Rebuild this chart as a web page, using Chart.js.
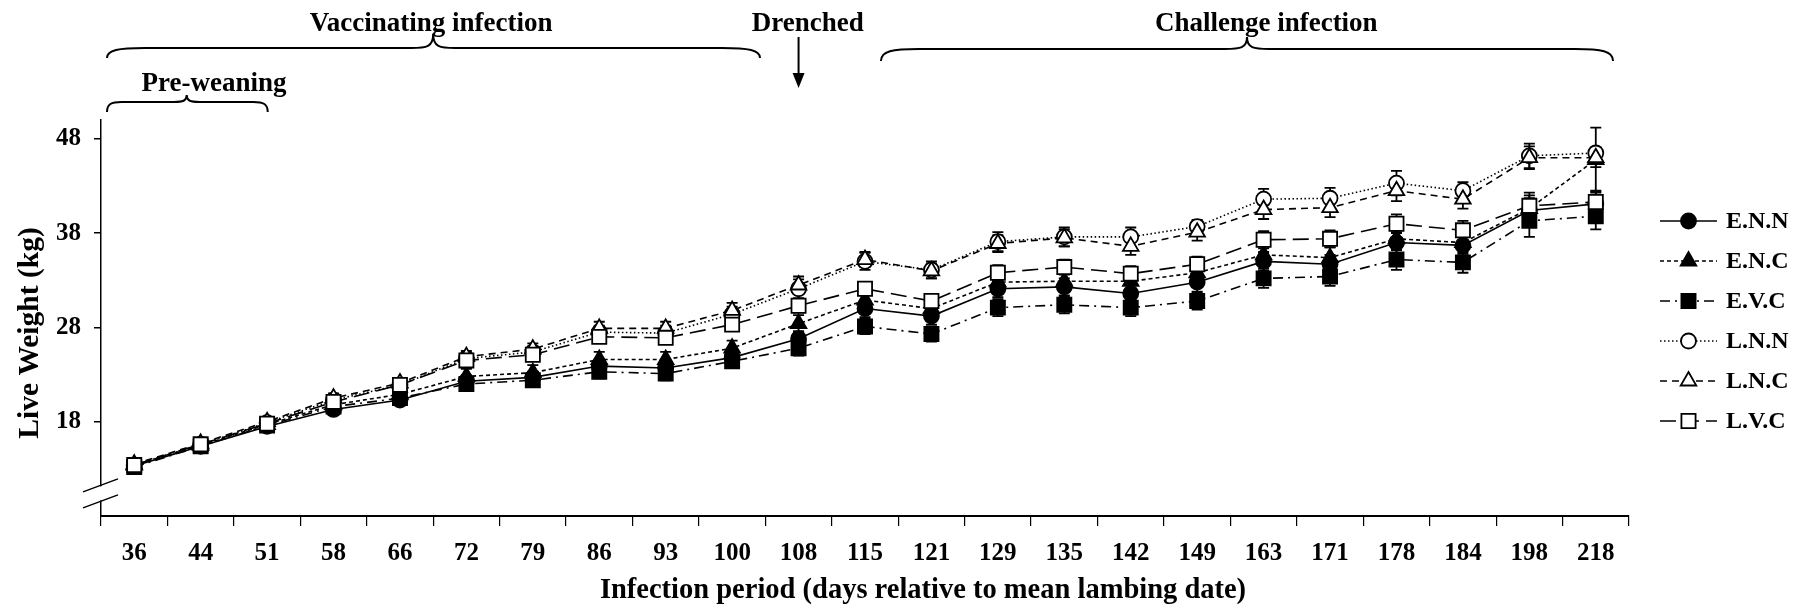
<!DOCTYPE html>
<html>
<head>
<meta charset="utf-8">
<title>Live weight by infection period</title>
<script src="https://cdn.jsdelivr.net/npm/chart.js"></script>
<style>
  html, body { margin: 0; padding: 0; background: #fff; }
  #wrap { width: 1806px; height: 616px; }
  canvas { display: block; }
</style>
</head>
<body>
<div id="wrap"><canvas id="chart" width="1806" height="616"></canvas></div>
<script>
// Days relative to mean lambing date
const days = ['36', '44', '51', '58', '66', '72', '79', '86', '93', '100', '108', '115',
              '121', '129', '135', '142', '149', '163', '171', '178', '184', '198', '218'];

// Live weight tick values (kg)
const yTicks = [18, 28, 38, 48];

// Group names
const groupNames = ['E.N.N', 'E.N.C', 'E.V.C', 'L.N.N', 'L.N.C', 'L.V.C'];

// Mean live weight (kg) per group
const wENN = [13.3, 15.4, 17.5, 19.3, 20.3, 22.3, 22.7, 23.9, 23.7, 24.8, 26.8, 30.0,
              29.2, 32.1, 32.3, 31.6, 32.8, 35.0, 34.7, 37.0, 36.7, 40.4, 41.1];
const wENC = [13.4, 15.5, 17.7, 19.8, 20.9, 22.8, 23.2, 24.6, 24.6, 25.8, 28.4, 30.9,
              30.0, 32.8, 32.9, 32.9, 33.8, 35.7, 35.4, 37.4, 37.0, 40.6, 45.8];
const wEVC = [13.2, 15.4, 17.6, 19.6, 20.5, 22.0, 22.4, 23.3, 23.1, 24.4, 25.8, 28.1,
              27.3, 30.1, 30.4, 30.1, 30.8, 33.2, 33.4, 35.2, 34.9, 39.3, 39.8];
const wLNN = [13.4, 15.6, 17.9, 20.3, 21.9, 24.7, 25.4, 27.5, 27.4, 29.4, 32.1, 35.0,
              34.1, 37.1, 37.6, 37.6, 38.7, 41.6, 41.7, 43.3, 42.5, 46.2, 46.5];
const wLNC = [13.5, 15.7, 18.0, 20.5, 22.1, 24.9, 25.7, 27.9, 27.9, 29.8, 32.5, 35.2,
              34.0, 36.9, 37.5, 36.6, 38.1, 40.5, 40.7, 42.5, 41.6, 46.0, 46.0];
const wLVC = [13.4, 15.6, 17.8, 20.1, 21.9, 24.5, 25.1, 27.0, 26.9, 28.3, 30.3, 32.1,
              30.8, 33.8, 34.4, 33.7, 34.7, 37.3, 37.4, 39.0, 38.3, 40.9, 41.3];

// Standard errors (kg) per group
const seENN = [0.3, 0.4, 0.4, 0.5, 0.5, 0.6, 0.6, 0.7, 0.7, 0.8, 0.8, 0.9,
               0.9, 0.9, 0.9, 1.0, 1.0, 1.0, 1.0, 1.1, 1.1, 1.3, 1.2];
const seENC = [0.3, 0.4, 0.4, 0.5, 0.6, 0.8, 0.8, 0.8, 0.8, 0.8, 0.9, 0.9,
               0.9, 1.0, 1.0, 1.0, 1.0, 1.1, 1.1, 1.2, 1.2, 1.4, 3.4];
const seEVC = [0.3, 0.3, 0.4, 0.5, 0.5, 0.6, 0.6, 0.7, 0.7, 0.7, 0.8, 0.8,
               0.8, 0.9, 0.9, 0.9, 0.9, 1.0, 1.0, 1.1, 1.1, 1.7, 1.4];
const seLNN = [0.3, 0.4, 0.4, 0.5, 0.5, 0.6, 0.6, 0.7, 0.8, 0.8, 1.0, 0.9,
               0.9, 1.0, 1.0, 1.0, 0.7, 1.1, 1.1, 1.3, 0.9, 1.3, 0.6];
const seLNC = [0.3, 0.4, 0.4, 0.5, 0.5, 0.6, 0.6, 0.7, 0.7, 0.8, 0.9, 0.8,
               0.8, 0.9, 0.9, 0.9, 0.9, 1.0, 1.0, 1.1, 1.0, 1.2, 1.0];
const seLVC = [0.3, 0.3, 0.4, 0.4, 0.5, 0.5, 0.6, 0.6, 0.6, 0.7, 0.7, 0.7,
               0.7, 0.8, 0.8, 0.8, 0.8, 0.9, 0.9, 1.0, 1.0, 1.4, 1.2];

// Axis titles
const xTitle = 'Infection period (days relative to mean lambing date)';
const yTitle = 'Live Weight (kg)';

const FONT = '"Liberation Serif", "Times New Roman", serif';

const weights = [wENN, wENC, wEVC, wLNN, wLNC, wLVC];
const errors  = [seENN, seENC, seEVC, seLNN, seLNC, seLVC];

// Line and marker look of each group
const looks = [
  { dash: [],            style: 'circle',   radius: 7.5, fill: '#000' },
  { dash: [4, 3],        style: 'triangle', radius: 9,   fill: '#000' },
  { dash: [10, 5, 2, 5], style: 'rect',     radius: 10,  fill: '#000' },
  { dash: [1.5, 2.5],    style: 'circle',   radius: 7.5, fill: '#fff' },
  { dash: [7, 5],        style: 'triangle', radius: 9,   fill: '#fff' },
  { dash: [16, 7],       style: 'rect',     radius: 10,  fill: '#fff' }
];

const datasets = groupNames.map((name, i) => ({
  label: name,
  data: weights[i],
  se: errors[i],
  borderColor: '#000',
  borderWidth: 1.6,
  borderDash: looks[i].dash,
  pointStyle: looks[i].style,
  pointRadius: looks[i].radius,
  pointHoverRadius: looks[i].radius,
  pointBorderWidth: 1.8,
  pointBorderColor: '#000',
  pointBackgroundColor: looks[i].fill,
  fill: false,
  tension: 0,
  order: groupNames.length - i
}));

function drawMarker(ctx, style, r, x, y, fill) {
  ctx.beginPath();
  if (style === 'circle') {
    ctx.arc(x, y, r, 0, Math.PI * 2);
  } else if (style === 'triangle') {
    for (let k = 0; k < 3; k++) {
      const a = -Math.PI / 2 + k * 2 * Math.PI / 3;
      const px = x + Math.cos(a) * r, py = y + Math.sin(a) * r;
      if (k === 0) ctx.moveTo(px, py); else ctx.lineTo(px, py);
    }
    ctx.closePath();
  } else {
    const h = r * Math.SQRT1_2;
    ctx.rect(x - h, y - h, 2 * h, 2 * h);
  }
  ctx.fillStyle = fill;
  ctx.fill();
  ctx.stroke();
}

// Standard error whiskers, drawn under the markers
const errorBars = {
  id: 'errorBars',
  beforeDatasetsDraw(chart) {
    const { ctx, scales: { x, y } } = chart;
    ctx.save();
    ctx.strokeStyle = '#000';
    ctx.lineWidth = 1.8;
    ctx.setLineDash([]);
    chart.data.datasets.forEach(ds => {
      ds.data.forEach((v, j) => {
        const e = ds.se[j];
        const cx = x.getPixelForValue(j);
        const yt = y.getPixelForValue(v + e);
        const yb = y.getPixelForValue(v - e);
        ctx.beginPath();
        ctx.moveTo(cx, yt); ctx.lineTo(cx, yb);
        ctx.moveTo(cx - 5.5, yt); ctx.lineTo(cx + 5.5, yt);
        ctx.moveTo(cx - 5.5, yb); ctx.lineTo(cx + 5.5, yb);
        ctx.stroke();
      });
    });
    ctx.restore();
  }
};

// Broken-axis marks near the bottom of the weight axis
const axisBreak = {
  id: 'axisBreak',
  afterDraw(chart) {
    const { ctx, chartArea, scales: { y } } = chart;
    const x0 = chartArea.left;
    const yc = y.getPixelForValue(10.4);
    ctx.save();
    ctx.fillStyle = '#fff';
    ctx.fillRect(x0 - 2, yc - 7, 4, 14);
    ctx.strokeStyle = '#000';
    ctx.lineWidth = 1.5;
    [-8, 8].forEach(d => {
      ctx.beginPath();
      ctx.moveTo(x0 - 18, yc + d + 6.5);
      ctx.lineTo(x0 + 17, yc + d - 6.5);
      ctx.stroke();
    });
    ctx.restore();
  }
};

// Axis titles: the day title sits right of centre, the weight title a little low
const axisTitles = {
  id: 'axisTitles',
  afterDraw(chart) {
    const { ctx, chartArea } = chart;
    ctx.save();
    ctx.fillStyle = '#000';
    ctx.font = 'bold 28.5px ' + FONT;
    ctx.textAlign = 'center';
    ctx.textBaseline = 'middle';
    ctx.fillText(xTitle, (chartArea.left + chartArea.right) / 2 + 58, chartArea.bottom + 75);
    ctx.font = 'bold 29.5px ' + FONT;
    ctx.textBaseline = 'alphabetic';
    ctx.translate(chartArea.left - 63.5, (chartArea.top + chartArea.bottom) / 2 + 15);
    ctx.rotate(-Math.PI / 2);
    ctx.fillText(yTitle, 0, 0);
    ctx.restore();
  }
};

function drawBrace(ctx, xL, xR, xT, yEnd, yBar, yPeak) {
  const w = xR - xL;
  const c = Math.min(38, w * 0.09);
  const t = Math.min(22, w * 0.08);
  ctx.beginPath();
  ctx.moveTo(xL, yEnd);
  ctx.bezierCurveTo(xL, yBar + 2, xL + c * 0.3, yBar, xL + c, yBar);
  ctx.lineTo(xT - t, yBar);
  ctx.bezierCurveTo(xT - t * 0.3, yBar, xT, yBar - 1, xT, yPeak);
  ctx.bezierCurveTo(xT, yBar - 1, xT + t * 0.3, yBar, xT + t, yBar);
  ctx.lineTo(xR - c, yBar);
  ctx.bezierCurveTo(xR - c * 0.3, yBar, xR, yBar + 2, xR, yEnd);
  ctx.stroke();
}

// Period braces, their titles and the drench arrow above the plot
const periodNotes = {
  id: 'periodNotes',
  afterDraw(chart) {
    const { ctx, chartArea, scales: { x } } = chart;
    const top = chartArea.top;
    const px = i => x.getPixelForValue(i);
    const spans = [
      { text: 'Vaccinating infection', from: -0.41, to: 9.42, tip: 4.5, textAt: 4.47, end: 62, bar: 72, peak: 86, base: 89 },
      { text: 'Challenge infection', from: 11.24, to: 22.26, tip: 16.75, textAt: 17.04, end: 59, bar: 71, peak: 83, base: 89 },
      { text: 'Pre-weaning', from: -0.41, to: 2.01, tip: 0.79, textAt: 1.2, end: 8, bar: 18, peak: 25, base: 29 }
    ];
    ctx.save();
    ctx.strokeStyle = '#000';
    ctx.fillStyle = '#000';
    ctx.lineWidth = 2;
    ctx.setLineDash([]);
    ctx.font = 'bold 27px ' + FONT;
    ctx.textAlign = 'center';
    ctx.textBaseline = 'alphabetic';
    spans.forEach(s => {
      drawBrace(ctx, px(s.from), px(s.to), px(s.tip), top - s.end, top - s.bar, top - s.peak);
      ctx.fillText(s.text, px(s.textAt), top - s.base);
    });
    // Drench at day 108
    const ax = px(10);
    ctx.fillText('Drenched', px(10.14), top - 89);
    ctx.beginPath();
    ctx.moveTo(ax, top - 83);
    ctx.lineTo(ax, top - 45);
    ctx.stroke();
    ctx.beginPath();
    ctx.moveTo(ax - 6, top - 47);
    ctx.lineTo(ax + 6, top - 47);
    ctx.lineTo(ax, top - 32);
    ctx.closePath();
    ctx.fill();
    ctx.restore();
  }
};

// Legend on the right: line sample with marker, then group name
const sideLegend = {
  id: 'sideLegend',
  afterDraw(chart) {
    const { ctx, chartArea } = chart;
    const x0 = chartArea.right + 31, x1 = x0 + 57, xm = (x0 + x1) / 2;
    ctx.save();
    ctx.font = 'bold 24px ' + FONT;
    ctx.textAlign = 'left';
    ctx.textBaseline = 'middle';
    chart.data.datasets.forEach((ds, i) => {
      const yy = chartArea.top + 101 + 40 * i;
      ctx.strokeStyle = '#000';
      ctx.lineWidth = 1.6;
      ctx.setLineDash(ds.borderDash);
      ctx.beginPath();
      ctx.moveTo(x0, yy);
      ctx.lineTo(x1, yy);
      ctx.stroke();
      ctx.setLineDash([]);
      ctx.lineWidth = 1.8;
      drawMarker(ctx, ds.pointStyle, ds.pointRadius, xm, yy, ds.pointBackgroundColor);
      ctx.fillStyle = '#000';
      ctx.fillText(ds.label, x1 + 9, yy + 1);
    });
    ctx.restore();
  }
};

new Chart(document.getElementById('chart'), {
  type: 'line',
  data: { labels: days, datasets: datasets },
  options: {
    responsive: false,
    devicePixelRatio: 1,
    animation: false,
    events: [],
    layout: { padding: { top: 120, right: 177, left: 0, bottom: 0 } },
    plugins: {
      legend: { display: false },
      tooltip: { enabled: false }
    },
    scales: {
      x: {
        type: 'category',
        offset: true,
        afterFit(scale) { scale.height = 100; },
        grid: {
          offset: true,
          drawOnChartArea: false,
          drawTicks: true,
          tickLength: 10,
          color: '#000',
          lineWidth: 1.2
        },
        border: { display: true, color: '#000', width: 2 },
        ticks: {
          autoSkip: false,
          maxRotation: 0,
          minRotation: 0,
          padding: 13,
          color: '#000',
          font: { family: FONT, size: 25, weight: 'bold' }
        },
        title: { display: false }
      },
      y: {
        min: 8,
        max: 50,
        afterFit(scale) { scale.width = 101; },
        afterBuildTicks(scale) { scale.ticks = yTicks.map(v => ({ value: v })); },
        grid: {
          drawOnChartArea: false,
          drawTicks: true,
          tickLength: 7,
          color: '#000',
          lineWidth: 1.5
        },
        border: { display: true, color: '#000', width: 1.5 },
        ticks: {
          padding: 13,
          color: '#000',
          font: { family: FONT, size: 25, weight: 'bold' }
        },
        title: { display: false }
      }
    }
  },
  plugins: [errorBars, axisBreak, axisTitles, periodNotes, sideLegend]
});
</script>
</body>
</html>
